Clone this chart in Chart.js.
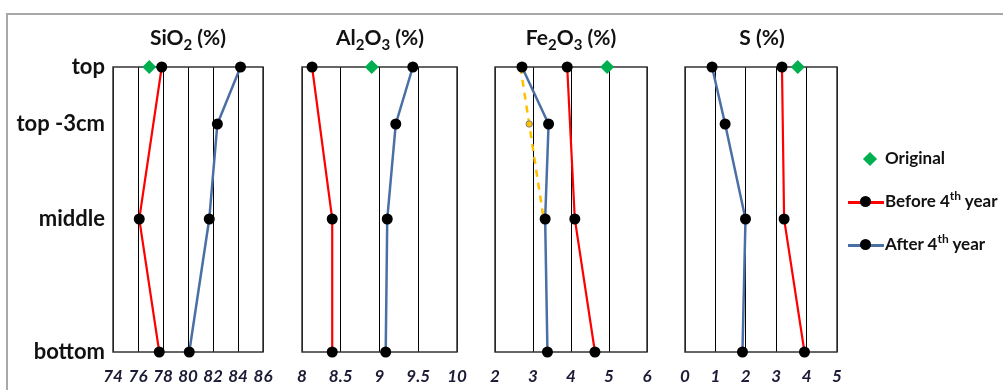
<!DOCTYPE html>
<html>
<head>
<meta charset="utf-8">
<script src="https://cdn.jsdelivr.net/npm/chart.js@4.4.1/dist/chart.umd.min.js"></script>
<style>
  html,body{margin:0;padding:0;background:#fff;}
  body{width:1003px;height:390px;overflow:hidden;position:relative;font-family:Lato,"Open Sans",sans-serif;}
  canvas{position:absolute;left:0;top:0;}
  #frame{position:absolute;left:6px;top:13px;width:1010px;height:400px;border-left:2px solid #a8a8a8;border-top:2px solid #a8a8a8;box-sizing:border-box;}
  .title{position:absolute;top:25px;width:200px;text-align:center;font-weight:bold;font-size:21px;color:#111;line-height:24px;}
  .title sub{font-size:15px;vertical-align:-5px;line-height:0;}
  .leg{position:absolute;left:885px;font-weight:bold;font-size:17px;color:#111;line-height:20px;white-space:nowrap;}
  .leg sup{font-size:12px;vertical-align:7px;line-height:0;}
  .diamond{position:absolute;width:10px;height:10px;background:#00B050;transform:rotate(45deg);}
  .lline{position:absolute;height:2.5px;width:36px;}
  .ldot{position:absolute;width:11px;height:11px;border-radius:50%;background:#000;}
</style>
</head>
<body>
<div id="frame"></div>
<canvas id="c0" width="1003" height="390"></canvas>
<canvas id="c1" width="1003" height="390"></canvas>
<canvas id="c2" width="1003" height="390"></canvas>
<canvas id="c3" width="1003" height="390"></canvas>
<div class="title" style="left:88px">SiO<sub>2</sub> (%)</div>
<div class="title" style="left:280px">Al<sub>2</sub>O<sub>3</sub> (%)</div>
<div class="title" style="left:471px">Fe<sub>2</sub>O<sub>3</sub> (%)</div>
<div class="title" style="left:662px">S (%)</div>

<div class="diamond" style="left:865px;top:154px"></div>
<div class="leg" style="top:148px">Original</div>
<div class="lline" style="left:848px;top:201px;background:#FF0000"></div>
<div class="ldot" style="left:860px;top:196px"></div>
<div class="leg" style="top:191px">Before 4<sup>th</sup> year</div>
<div class="lline" style="left:848px;top:244px;background:#4A6FA5"></div>
<div class="ldot" style="left:860px;top:239px"></div>
<div class="leg" style="top:234px">After 4<sup>th</sup> year</div>

<script>
// ---- Data ----
const depthLabels = ['top', 'top -3cm', 'middle', 'bottom'];
const depthValues = [0, 3, 8, 15];

const sio2Original = 76.9;
const sio2Before = [77.9, null, 76.1, 77.7];
const sio2After  = [84.2, 82.35, 81.7, 80.1];

const al2o3Original = 8.9;
const al2o3Before = [8.13, null, 8.39, 8.39];
const al2o3After  = [9.43, 9.21, 9.1, 9.08];

const fe2o3Original = 4.95;
const fe2o3Before = [3.9, null, 4.1, 4.63];
const fe2o3After  = [2.71, 3.41, 3.32, 3.38];
const fe2o3Dashed = [2.67, 2.9, 3.28, null];

const sOriginal = 3.71;
const sBefore = [3.19, null, 3.26, 3.93];
const sAfter  = [0.89, 1.32, 1.99, 1.89];

const xRanges = [[74, 86, 2], [8, 10, 0.5], [2, 6, 1], [0, 5, 1]];
const panelLeft  = [113, 302, 495, 685];
const panelRight = [263, 457, 647, 837];

// ---- helpers ----
function pts(vals){ return vals.map((v,i)=> v===null ? null : {x:v, y:depthValues[i]}).filter(p=>p); }

function strokeFrame(chart){
  const a = chart.chartArea, ctx = chart.ctx;
  ctx.save();
  ctx.strokeStyle = '#333';
  ctx.lineWidth = 1.5;
  ctx.strokeRect(a.left, a.top, a.right-a.left, a.bottom-a.top);
  ctx.restore();
}
const framePlugin = { id:'frame', beforeDatasetsDraw: strokeFrame };

function makeChart(idx, original, before, after, dashed){
  const [mn, mx, st] = xRanges[idx];
  const datasets = [];
  datasets.push({
    data: [{x: original, y: 0}], showLine:false,
    pointStyle:'rectRot', pointRadius:7, pointBackgroundColor:'#00B050', pointBorderColor:'#00B050', pointBorderWidth:0,
    clip:false, order:0
  });
  datasets.push({
    data: pts(before), showLine:true, borderColor:'#FF0000', borderWidth:2.2,
    pointRadius:5.5, pointBackgroundColor:'#000', pointBorderColor:'#000', pointBorderWidth:0,
    clip:false, order:2
  });
  datasets.push({
    data: pts(after), showLine:true, borderColor:'#4A6FA5', borderWidth:2.5,
    pointRadius:5.5, pointBackgroundColor:'#000', pointBorderColor:'#000', pointBorderWidth:0,
    clip:false, order:1
  });
  if (dashed){
    datasets.push({
      data: pts(dashed), showLine:true, borderColor:'#FFC000', borderWidth:2.5, borderDash:[7,6],
      pointRadius:[0,3.2,0], pointBackgroundColor:'#FFC000', pointBorderColor:'#7f7f7f', pointBorderWidth:1,
      clip:false, order:3
    });
  }
  const showY = idx === 0;
  return new Chart(document.getElementById('c'+idx), {
    type:'scatter',
    data:{datasets},
    plugins:[framePlugin],
    options:{
      responsive:false, animation:false, events:[],
      layout:{padding:{left: showY ? 0 : panelLeft[idx], right: 1003-panelRight[idx], top:67, bottom:0}},
      plugins:{legend:{display:false}, tooltip:{enabled:false}, title:{display:false}},
      scales:{
        x:{
          type:'linear', position:'bottom', min:mn, max:mx,
          ticks:{stepSize:st, color:'#1b1b35', padding:14, font:{family:'Lato', size:17, weight:'bold', style:'italic'},
                 maxRotation:0, autoSkip:false,
                 callback(v){ return String(v); }},
          grid:{color:'#000', lineWidth:1, drawTicks:false},
          border:{display:false},
          afterFit(s){ s.height = 38; }
        },
        y:{
          type:'linear', reverse:true, min:0, max:15, display: showY,
          afterBuildTicks(s){ s.ticks = depthValues.map(v=>({value:v})); },
          ticks:{
            callback(v){ const i = depthValues.indexOf(v); return i>=0 ? depthLabels[i] : ''; },
            color:'#111', padding:8, font:{family:'Lato', size:22, weight:'bold'}, autoSkip:false
          },
          grid:{display:false, drawTicks:false},
          border:{display:false},
          afterFit(s){ s.width = showY ? panelLeft[0] : 0; }
        }
      }
    }
  });
}

makeChart(0, sio2Original, sio2Before, sio2After, null);
makeChart(1, al2o3Original, al2o3Before, al2o3After, null);
makeChart(2, fe2o3Original, fe2o3Before, fe2o3After, fe2o3Dashed);
makeChart(3, sOriginal, sBefore, sAfter, null);
</script>
</body>
</html>
